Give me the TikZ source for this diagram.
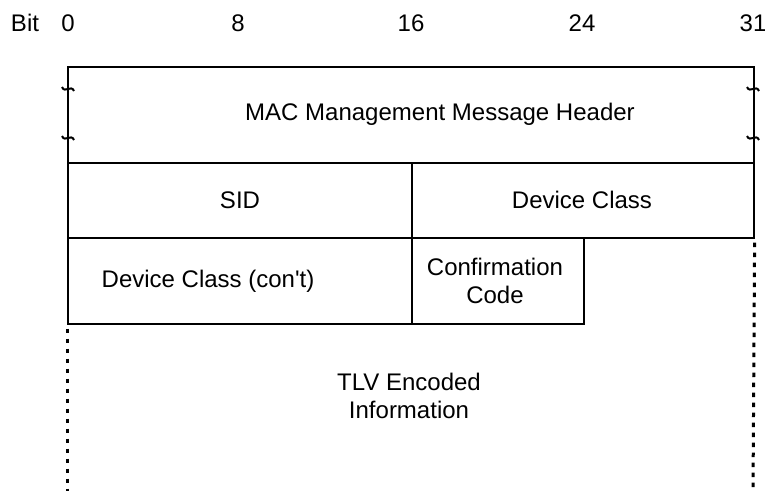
\documentclass[tikz,border=0pt]{standalone}
\usepackage{fontspec}
\setmainfont{Liberation Sans}[Ligatures=TeXOff]
\begin{document}
\begin{tikzpicture}[x=1pt,y=-1pt,
  cell/.style={draw=black, line width=1.6pt, inner sep=0pt, anchor=north west},
  lbl/.style={font=\fontsize{24}{28.5}\selectfont, align=center, inner sep=0pt},
  rul/.style={font=\fontsize{24}{28.5}\selectfont, inner sep=0pt, anchor=base},
  dotline/.style={line width=3pt, dash pattern=on 4.5pt off 5.5pt},
  tildestyle/.style={line width=2pt}]
\useasboundingbox (0,0) rectangle (765,490);
% bit ruler
\node[rul] (bit) at (25,31) {Bit};
\node[rul] (b0) at (68,31) {0};
\node[rul] (b8) at (238,31) {8};
\node[rul] (b16) at (411,31) {16};
\node[rul] (b24) at (582,31) {24};
\node[rul] (b31) at (753,31) {31};
% boxes
\node[cell, minimum width=686pt, minimum height=96pt] (hdr) at (67,66) {};
\node[cell, minimum width=344pt, minimum height=75pt] (sid) at (67,162) {};
\node[cell, minimum width=342pt, minimum height=75pt] (dc) at (411,162) {};
\node[cell, minimum width=344pt, minimum height=86pt] (dcc) at (67,237) {};
\node[cell, minimum width=172pt, minimum height=86pt] (cc) at (411,237) {};
% texts
\node[lbl] (thdr) at (440,114) {MAC Management Message Header};
\node[lbl] (tsid) at (240,200) {SID};
\node[lbl] (tdc) at (582,200) {Device Class};
\node[lbl] (tdcc) at (208,281) {Device Class (con't)};
\node[lbl] (tcc) at (495,281) {Confirmation\\Code};
\node[lbl] (ttlv) at (409,396) {TLV Encoded\\Information};
% dotted continuation
\coordinate (lend) at (67,492);
\coordinate (rend) at (753,492);
\draw[dotline] ([yshift=-4pt]dcc.south west) -- (lend);
\draw[dotline] ([yshift=-4pt]dc.south east) -- (rend);
% tildes
\foreach \xx/\yy/\nm in {68/89/ta, 68/138/tb, 753/89/tc, 753/138/td}{
  \coordinate (\nm) at (\xx,\yy);
  \draw[tildestyle] ([xshift=-6pt,yshift=2pt]\nm) .. controls ([xshift=-3pt,yshift=-5pt]\nm) and ([xshift=3pt,yshift=5pt]\nm) .. ([xshift=6pt,yshift=-2pt]\nm);
}
\end{tikzpicture}
\end{document}
